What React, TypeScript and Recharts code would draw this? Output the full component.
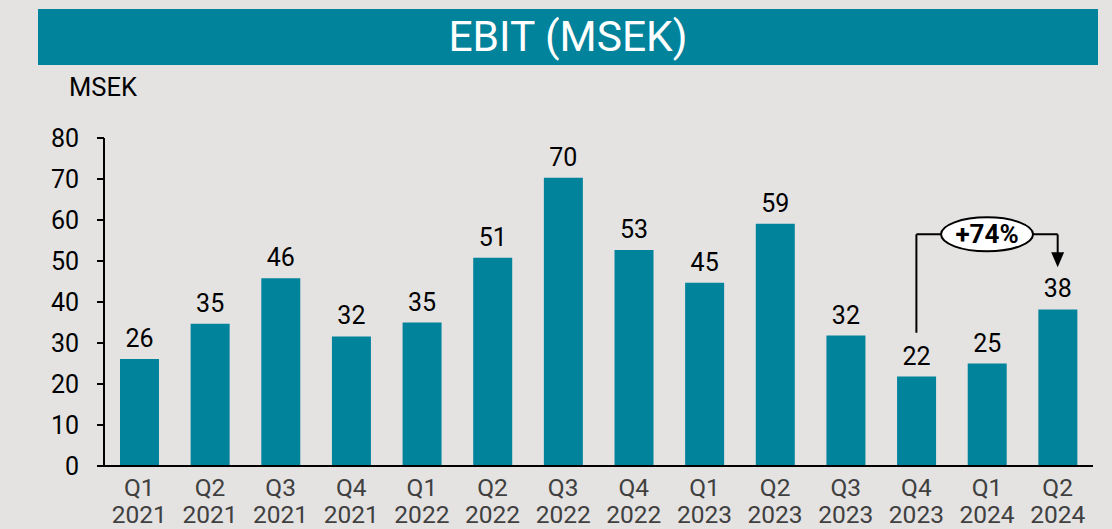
import { BarChart, Bar, XAxis, YAxis, LabelList, ReferenceLine, ReferenceDot } from "recharts";

// quarters shown on the x axis
const quarters = [
  "Q1 2021", "Q2 2021", "Q3 2021", "Q4 2021",
  "Q1 2022", "Q2 2022", "Q3 2022", "Q4 2022",
  "Q1 2023", "Q2 2023", "Q3 2023", "Q4 2023",
  "Q1 2024", "Q2 2024",
];
// EBIT in MSEK
const ebit = [26.1, 34.7, 45.8, 31.6, 35.0, 50.8, 70.3, 52.7, 44.7, 59.1, 31.8, 21.8, 25.0, 38.2];
const yTicks = [0, 10, 20, 30, 40, 50, 60, 70, 80];

// growth callout between Q4 2023 and Q2 2024
const calloutFrom = "Q4 2023";
const calloutMid = "Q1 2024";
const calloutTo = "Q2 2024";
const calloutLabel = "+74%";
const calloutLevel = 56.5;
const calloutStart = 32.5;
const arrowTip = 48.5;

const data = quarters.map((q, i) => ({ quarter: q, value: ebit[i] }));

const TEAL = "#02839c";
const FONT = "Roboto, sans-serif";

const QuarterTick = (props: any) => {
  const { x, y, payload } = props;
  const [q, yr] = String(payload.value).split(" ");
  return (
    <text x={x} y={y} textAnchor="middle" fill="#404040" fontSize={24.5} fontFamily={FONT}>
      <tspan x={x} dy={30}>{q}</tspan>
      <tspan x={x} dy={26.5}>{yr}</tspan>
    </text>
  );
};

const Bubble = (props: any) => {
  const { cx, cy } = props;
  return (
    <g>
      <ellipse cx={cx} cy={cy} rx={46} ry={17} fill="#ffffff" stroke="#000" strokeWidth={2} />
      <text x={cx} y={cy + 9} textAnchor="middle" fontSize={26} fontWeight="bold" fontFamily={FONT} fill="#000">
        {calloutLabel}
      </text>
    </g>
  );
};

const ArrowHead = (props: any) => {
  const { cx, cy } = props;
  return <path d={`M${cx - 6.5},${cy - 15} L${cx + 6.5},${cy - 15} L${cx},${cy} Z`} fill="#000" />;
};

export default function App() {
  return (
    <div style={{ position: "fixed", left: 0, top: 0, width: 1112, height: 529, background: "#e4e3e2", fontFamily: FONT, overflow: "hidden" }}>
      <div
        style={{
          position: "absolute", left: 38, top: 9, width: 1060, height: 56, background: TEAL,
          color: "#fff", fontSize: 42.5, lineHeight: "56px", textAlign: "center",
        }}
      >
        EBIT (MSEK)
      </div>
      <div style={{ position: "absolute", left: 69, top: 72, fontSize: 25.5, color: "#000" }}>MSEK</div>
      <div style={{ position: "absolute", left: 0, top: 0 }}>
        <BarChart width={1112} height={529} data={data} margin={{ top: 138, right: 19, bottom: 0, left: 0 }} barSize={39}>
          <XAxis
            dataKey="quarter"
            height={63}
            tickLine={false}
            tickSize={0}
            tickMargin={0}
            interval={0}
            axisLine={{ stroke: "#000", strokeWidth: 2 }}
            tick={<QuarterTick />}
          />
          <YAxis
            width={104}
            domain={[0, 80]}
            ticks={yTicks}
            interval={0}
            tickSize={7}
            tickMargin={18}
            axisLine={{ stroke: "#000", strokeWidth: 2 }}
            tickLine={{ stroke: "#000", strokeWidth: 2 }}
            tick={{ fill: "#000", fontSize: 25, fontFamily: FONT }}
          />
          <Bar dataKey="value" fill={TEAL} isAnimationActive={false}>
            <LabelList
              dataKey="value"
              position="top"
              offset={12}
              formatter={(v: any) => Math.round(Number(v))}
              style={{ fill: "#000", fontSize: 25, fontFamily: FONT }}
            />
          </Bar>
          <ReferenceLine
            segment={[{ x: calloutFrom, y: calloutStart }, { x: calloutFrom, y: calloutLevel }]}
            stroke="#000"
            strokeWidth={2}
            ifOverflow="visible"
          />
          <ReferenceLine
            segment={[{ x: calloutFrom, y: calloutLevel }, { x: calloutTo, y: calloutLevel }]}
            stroke="#000"
            strokeWidth={2}
            ifOverflow="visible"
          />
          <ReferenceLine
            segment={[{ x: calloutTo, y: calloutLevel }, { x: calloutTo, y: arrowTip + 3 }]}
            stroke="#000"
            strokeWidth={2}
            ifOverflow="visible"
          />
          <ReferenceDot x={calloutTo} y={arrowTip} ifOverflow="visible" shape={<ArrowHead />} />
          <ReferenceDot x={calloutMid} y={calloutLevel} ifOverflow="visible" shape={<Bubble />} />
        </BarChart>
      </div>
    </div>
  );
}
